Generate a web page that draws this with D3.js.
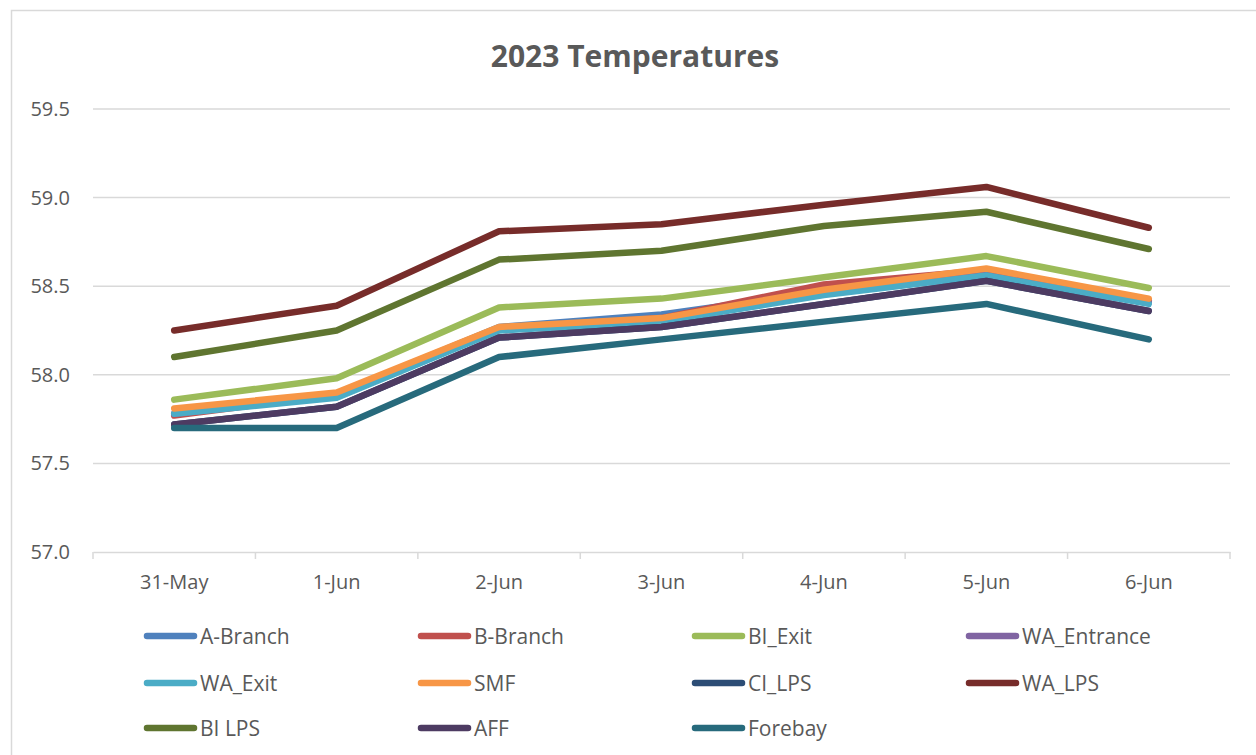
<!DOCTYPE html>
<html>
<head>
<meta charset="utf-8">
<script src="https://cdn.jsdelivr.net/npm/d3@7"></script>
<style>
  html, body { margin: 0; padding: 0; background: #fff; }
  svg { display: block; font-family: "Open Sans", sans-serif; }
</style>
</head>
<body>
<svg id="chart" width="1256" height="755"></svg>
<script>
const title = "2023 Temperatures";
const categories = ["31-May", "1-Jun", "2-Jun", "3-Jun", "4-Jun", "5-Jun", "6-Jun"];
const yTicks = [57.0, 57.5, 58.0, 58.5, 59.0, 59.5];

const seriesNames = ["A-Branch", "B-Branch", "BI_Exit", "WA_Entrance", "WA_Exit", "SMF", "CI_LPS", "WA_LPS", "BI LPS", "AFF", "Forebay"];
const seriesColors = ["#4F81BD", "#C0504D", "#9BBB59", "#8064A2", "#4BACC6", "#F79646", "#2C4D75", "#772C2A", "#5F7530", "#4D3B62", "#276A7C"];

const aBranch    = [57.78, 57.89, 58.27, 58.34, 58.47, 58.57, 58.41];
const bBranch    = [57.77, 57.89, 58.26, 58.32, 58.51, 58.59, 58.42];
const biExit     = [57.86, 57.98, 58.38, 58.43, 58.55, 58.67, 58.49];
const waEntrance = [57.78, 57.88, 58.26, 58.31, 58.46, 58.57, 58.41];
const waExit     = [57.78, 57.87, 58.25, 58.30, 58.45, 58.56, 58.40];
const smf        = [57.81, 57.90, 58.27, 58.32, 58.48, 58.60, 58.43];
const ciLps      = [57.72, 57.82, 58.21, 58.27, 58.40, 58.53, 58.36];
const waLps      = [58.25, 58.39, 58.81, 58.85, 58.96, 59.06, 58.83];
const biLps      = [58.10, 58.25, 58.65, 58.70, 58.84, 58.92, 58.71];
const aff        = [57.72, 57.82, 58.21, 58.27, 58.40, 58.53, 58.36];
const forebay    = [57.70, 57.70, 58.10, 58.20, 58.30, 58.40, 58.20];

const seriesValues = [aBranch, bBranch, biExit, waEntrance, waExit, smf, ciLps, waLps, biLps, aff, forebay];

const svg = d3.select("#chart");
const W = 1256, H = 755;
const plot = { left: 93, right: 1230, top: 109, bottom: 552 };

// chart area border
svg.append("rect")
  .attr("x", 11.5).attr("y", 10.5)
  .attr("width", W + 20).attr("height", H + 20)
  .attr("fill", "#fff").attr("stroke", "#d9d9d9").attr("stroke-width", 1.5);

const x = d3.scaleBand().domain(categories).range([plot.left, plot.right]).padding(0);
const y = d3.scaleLinear().domain([57.0, 59.5]).range([plot.bottom, plot.top]);

// gridlines
svg.append("g")
  .selectAll("line")
  .data(yTicks.filter(t => t !== 57.0))
  .join("line")
  .attr("x1", plot.left).attr("x2", plot.right)
  .attr("y1", d => y(d)).attr("y2", d => y(d))
  .attr("stroke", "#d9d9d9").attr("stroke-width", 1.5);

// y axis labels
const yAxis = d3.axisLeft(y).tickValues(yTicks).tickFormat(d3.format(".1f")).tickSize(0).tickPadding(23);
const gy = svg.append("g").attr("transform", `translate(${plot.left},0)`).call(yAxis);
gy.select(".domain").remove();
gy.selectAll("text").attr("fill", "#595959").attr("font-size", 20).attr("font-family", "Open Sans, sans-serif");

// x axis
const xAxis = d3.axisBottom(x).tickSize(0).tickPadding(23);
const gx = svg.append("g").attr("transform", `translate(0,${plot.bottom})`).call(xAxis);
gx.select(".domain").attr("stroke", "#d9d9d9").attr("stroke-width", 1.5);
gx.selectAll("text").attr("fill", "#595959").attr("font-size", 20).attr("font-family", "Open Sans, sans-serif");
// tick marks at band boundaries
const boundaries = categories.map(c => x(c)).concat([x(categories[categories.length - 1]) + x.bandwidth()]);
gx.append("g").selectAll("line").data(boundaries).join("line")
  .attr("x1", d => d).attr("x2", d => d)
  .attr("y1", 0).attr("y2", 7)
  .attr("stroke", "#d9d9d9").attr("stroke-width", 1.5);

// lines
const line = d3.line()
  .x((d, i) => x(categories[i]) + x.bandwidth() / 2)
  .y(d => y(d));

svg.append("g")
  .selectAll("path")
  .data(seriesValues)
  .join("path")
  .attr("d", d => line(d))
  .attr("fill", "none")
  .attr("stroke", (d, i) => seriesColors[i])
  .attr("stroke-width", 6.5)
  .attr("stroke-linecap", "round")
  .attr("stroke-linejoin", "round");

// title
svg.append("text")
  .attr("x", 635).attr("y", 67)
  .attr("text-anchor", "middle")
  .attr("font-size", 30).attr("font-weight", "bold")
  .attr("fill", "#595959")
  .text(title);

// legend
const legendCols = [144, 418, 692, 966];
const legendRows = [636, 683, 728];
const lg = svg.append("g");
seriesNames.forEach((name, i) => {
  const cx = legendCols[i % 4], cy = legendRows[Math.floor(i / 4)];
  const g = lg.append("g");
  g.append("line")
    .attr("x1", cx + 3).attr("x2", cx + 50)
    .attr("y1", cy).attr("y2", cy)
    .attr("stroke", seriesColors[i]).attr("stroke-width", 6.5).attr("stroke-linecap", "round");
  g.append("text")
    .attr("x", cx + 56).attr("y", cy)
    .attr("dominant-baseline", "central")
    .attr("font-size", 21).attr("fill", "#595959")
    .text(name);
});
</script>
</body>
</html>
